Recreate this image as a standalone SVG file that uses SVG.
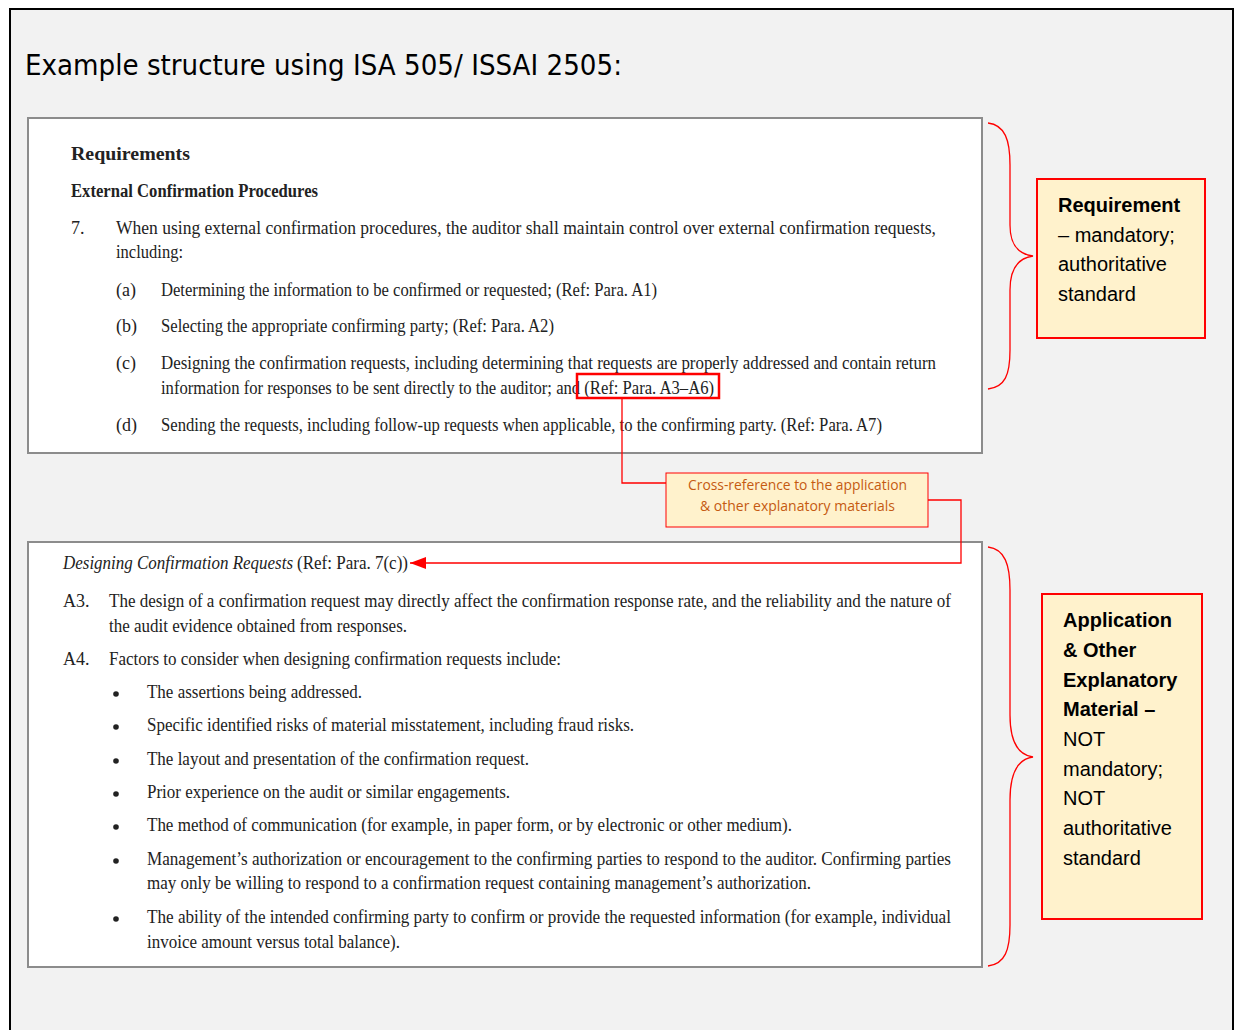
<svg xmlns="http://www.w3.org/2000/svg" width="1235" height="1030" viewBox="0 0 1235 1030">
<defs>
<style>
.doc{font-family:"Liberation Serif","Times New Roman",serif;font-size:18px;fill:#222}
.b{font-weight:bold}
.i{font-style:italic}
.lab{font-family:"Liberation Sans",Arial,sans-serif;font-size:20px;fill:#000}
.call{font-family:"Open Sans","Liberation Sans",sans-serif;font-size:14px;fill:#c55a11}
.pane{fill:#fff;stroke:#8c8c8c;stroke-width:2}
.note{fill:#fff2cc;stroke:#ff0000;stroke-width:2}
.red{fill:none;stroke:#ff0000;stroke-width:1.3}
</style>
<marker id="ah2" viewBox="0 0 16 12" refX="16" refY="6" markerWidth="16" markerHeight="12" markerUnits="userSpaceOnUse" orient="auto">
<path d="M0,0 L16,6 L0,12 z" fill="#ff0000"/>
</marker>
</defs>
<rect x="0" y="0" width="1235" height="1030" fill="#fff"/>
<rect x="10" y="9" width="1223" height="1040" fill="#f2f2f2" stroke="#000" stroke-width="2"/>
<text x="25" y="75" font-family="'DejaVu Sans',Tahoma,sans-serif" font-size="29" fill="#000" textLength="597" lengthAdjust="spacingAndGlyphs">Example structure using ISA 505/ ISSAI 2505:</text>

<g id="requirements">
<rect class="pane" x="28" y="118" width="954" height="335"/>
<text class="doc b" x="71" y="160" font-size="22" textLength="119" lengthAdjust="spacingAndGlyphs">Requirements</text>
<text class="doc b" x="71" y="197" textLength="247" lengthAdjust="spacingAndGlyphs">External Confirmation Procedures</text>
<text class="doc" x="71" y="234">7.</text>
<text class="doc" x="116" y="234" textLength="820" lengthAdjust="spacingAndGlyphs">When using external confirmation procedures, the auditor shall maintain control over external confirmation requests,</text>
<text class="doc" x="116" y="258" textLength="67" lengthAdjust="spacingAndGlyphs">including:</text>
<text class="doc" x="116" y="296">(a)</text>
<text class="doc" x="161" y="296" textLength="496" lengthAdjust="spacingAndGlyphs">Determining the information to be confirmed or requested; (Ref: Para. A1)</text>
<text class="doc" x="116" y="332">(b)</text>
<text class="doc" x="161" y="332" textLength="393" lengthAdjust="spacingAndGlyphs">Selecting the appropriate confirming party; (Ref: Para. A2)</text>
<text class="doc" x="116" y="369">(c)</text>
<text class="doc" x="161" y="369" textLength="775" lengthAdjust="spacingAndGlyphs">Designing the confirmation requests, including determining that requests are properly addressed and contain return</text>
<text class="doc" x="161" y="394" textLength="553" lengthAdjust="spacingAndGlyphs">information for responses to be sent directly to the auditor; and (Ref: Para. A3–A6)</text>
<text class="doc" x="116" y="431">(d)</text>
<text class="doc" x="161" y="431" textLength="721" lengthAdjust="spacingAndGlyphs">Sending the requests, including follow-up requests when applicable, to the confirming party. (Ref: Para. A7)</text>
<rect x="577" y="374" width="142" height="24" fill="none" stroke="#ff0000" stroke-width="2.5"/>
</g>

<g id="application">
<rect class="pane" x="28" y="542" width="954" height="425"/>
<text class="doc i" x="63" y="569" textLength="230" lengthAdjust="spacingAndGlyphs">Designing Confirmation Requests</text>
<text class="doc" x="297" y="569" textLength="111" lengthAdjust="spacingAndGlyphs">(Ref: Para. 7(c))</text>
<text class="doc" x="63" y="607">A3.</text>
<text class="doc" x="109" y="607" textLength="842" lengthAdjust="spacingAndGlyphs">The design of a confirmation request may directly affect the confirmation response rate, and the reliability and the nature of</text>
<text class="doc" x="109" y="632" textLength="298" lengthAdjust="spacingAndGlyphs">the audit evidence obtained from responses.</text>
<text class="doc" x="63" y="665">A4.</text>
<text class="doc" x="109" y="665" textLength="452" lengthAdjust="spacingAndGlyphs">Factors to consider when designing confirmation requests include:</text>
<g fill="#222">
<circle cx="116" cy="694" r="2.8"/>
<circle cx="116" cy="727" r="2.8"/>
<circle cx="116" cy="761" r="2.8"/>
<circle cx="116" cy="794" r="2.8"/>
<circle cx="116" cy="827" r="2.8"/>
<circle cx="116" cy="861" r="2.8"/>
<circle cx="116" cy="919" r="2.8"/>
</g>
<text class="doc" x="147" y="698" textLength="215" lengthAdjust="spacingAndGlyphs">The assertions being addressed.</text>
<text class="doc" x="147" y="731" textLength="487" lengthAdjust="spacingAndGlyphs">Specific identified risks of material misstatement, including fraud risks.</text>
<text class="doc" x="147" y="765" textLength="382" lengthAdjust="spacingAndGlyphs">The layout and presentation of the confirmation request.</text>
<text class="doc" x="147" y="798" textLength="363" lengthAdjust="spacingAndGlyphs">Prior experience on the audit or similar engagements.</text>
<text class="doc" x="147" y="831" textLength="645" lengthAdjust="spacingAndGlyphs">The method of communication (for example, in paper form, or by electronic or other medium).</text>
<text class="doc" x="147" y="865" textLength="804" lengthAdjust="spacingAndGlyphs">Management’s authorization or encouragement to the confirming parties to respond to the auditor. Confirming parties</text>
<text class="doc" x="147" y="889" textLength="664" lengthAdjust="spacingAndGlyphs">may only be willing to respond to a confirmation request containing management’s authorization.</text>
<text class="doc" x="147" y="923" textLength="804" lengthAdjust="spacingAndGlyphs">The ability of the intended confirming party to confirm or provide the requested information (for example, individual</text>
<text class="doc" x="147" y="948" textLength="253" lengthAdjust="spacingAndGlyphs">invoice amount versus total balance).</text>
</g>

<g id="crossref">
<rect x="666" y="473" width="262" height="54" fill="#fff2cc" stroke="#ff0000" stroke-width="1"/>
<text class="call" x="688" y="490" textLength="219" lengthAdjust="spacingAndGlyphs">Cross-reference to the application</text>
<text class="call" x="700" y="511" textLength="195" lengthAdjust="spacingAndGlyphs">&amp; other explanatory materials</text>
</g>

<g id="requirement-note">
<rect class="note" x="1037" y="179" width="168" height="159"/>
<text class="lab b" x="1058" y="212">Requirement</text>
<text class="lab" x="1058" y="242">– mandatory;</text>
<text class="lab" x="1058" y="271">authoritative</text>
<text class="lab" x="1058" y="301">standard</text>
</g>

<g id="application-note">
<rect class="note" x="1042" y="594" width="160" height="325"/>
<text class="lab b" x="1063" y="627">Application</text>
<text class="lab b" x="1063" y="657">&amp; Other</text>
<text class="lab b" x="1063" y="687">Explanatory</text>
<text class="lab b" x="1063" y="716">Material –</text>
<text class="lab" x="1063" y="746">NOT</text>
<text class="lab" x="1063" y="776">mandatory;</text>
<text class="lab" x="1063" y="805">NOT</text>
<text class="lab" x="1063" y="835">authoritative</text>
<text class="lab" x="1063" y="865">standard</text>
</g>

<g id="connectors">
<path class="red" d="M622,398 L622,483 L666,483"/>
<path class="red" d="M928,500 L961,500 L961,563 L410,563" marker-end="url(#ah2)"/>
<path class="red" d="M988,123 C1005,125 1010,140 1010,165 L1010,225 C1010,245 1018,254 1033,256 C1018,258 1010,268 1010,290 L1010,350 C1010,375 1005,387 988,389"/>
<path class="red" d="M988,547 C1005,549 1010,565 1010,590 L1010,715 C1010,742 1018,755 1033,757 C1018,759 1010,772 1010,800 L1010,925 C1010,950 1005,964 988,966"/>
</g>
</svg>
